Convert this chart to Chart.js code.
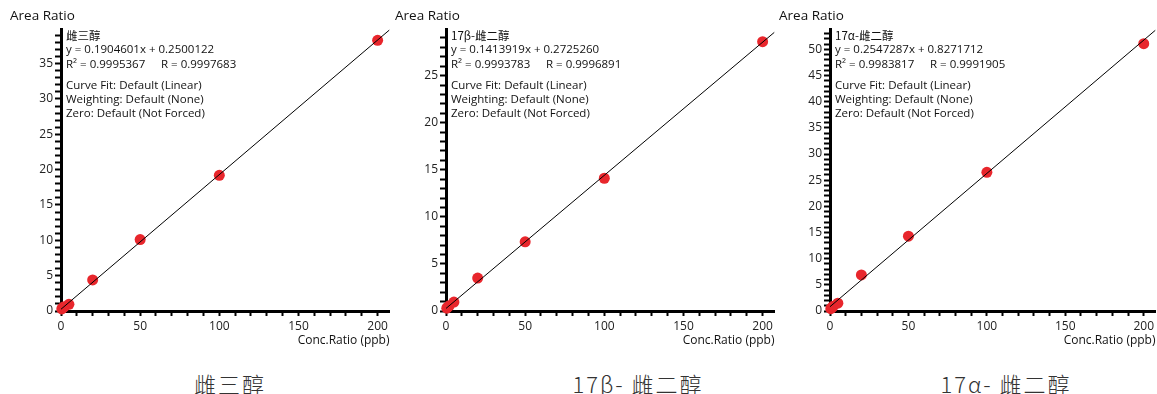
<!DOCTYPE html>
<html>
<head>
<meta charset="utf-8">
<script src="https://cdn.jsdelivr.net/npm/chart.js@4"></script>
<style>
  body { margin: 0; width: 1157px; height: 394px; overflow: hidden; background: #fff; position: relative; }
  .panel { position: absolute; top: 0; }
  .caption { position: absolute; top: 367px; font-family: "Noto Sans CJK SC", "Noto Sans", sans-serif; font-weight: 300;
             font-size: 22px; color: #333; letter-spacing: 2px; white-space: nowrap; transform: translateX(-50%); }
</style>
</head>
<body>
<div class="panel" style="left:0px"><canvas id="c1" width="395" height="352"></canvas></div>
<div class="panel" style="left:385px"><canvas id="c2" width="395" height="352"></canvas></div>
<div class="panel" style="left:769px"><canvas id="c3" width="392" height="352"></canvas></div>
<div class="caption" style="left:230px">雌三醇</div>
<div class="caption" style="left:638px">17β- 雌二醇</div>
<div class="caption" style="left:1006px">17α- 雌二醇</div>
<script>
// concentracoes dos padroes (ppb)
const concLevels = [0.5, 1, 2, 5, 20, 50, 100, 200];

// area ratio
const estriolRatio = [0.3, 0.45, 0.6, 0.95, 4.4, 10.1, 19.2, 38.3];
const betaRatio = [0.3, 0.4, 0.55, 0.95, 3.5, 7.35, 14.1, 28.6];
const alphaRatio = [0.45, 0.6, 0.9, 1.5, 6.9, 14.3, 26.5, 51.1];

// textos de cada curva
const compNames = ['雌三醇', '17β-雌二醇', '17α-雌二醇'];
const slopes = [0.1904601, 0.1413919, 0.2547287];
const intercepts = [0.2500122, 0.2725260, 0.8271712];
const r2Values = ['0.9995367', '0.9993783', '0.9983817'];
const rValues = ['0.9997683', '0.9996891', '0.9991905'];
const yMaxes = [39.9, 29.95, 53.9];
const xMax = 207.5;

// ticks: menores de 10 em 10 no x e de 1 em 1 no y, rotulo a cada 50 / 5
const xTicks = [0, 10, 20, 30, 40, 50, 60, 70, 80, 90, 100, 110, 120, 130, 140, 150, 160, 170, 180, 190, 200];
const xLabelStep = 50;
const yLabelStep = 5;

const font = '"Open Sans", "Noto Sans", sans-serif';

// texto da equacao e dos titulos dos eixos
const notesPlugin = {
  id: 'notes',
  afterDatasetsDraw(chart) {
    const n = chart.options.plugins.notes;
    const c = chart.ctx;
    const a = chart.chartArea;
    c.save();
    c.fillStyle = '#111';
    c.textBaseline = 'middle';
    c.textAlign = 'left';
    c.font = '13.5px ' + font;
    c.fillText('Area Ratio', 10, 16);
    const x = a.left + 5;
    c.font = '11.5px "Noto Sans CJK SC", ' + font;
    c.fillText(n.name, x, 36);
    c.font = '11.5px ' + font;
    c.fillText('y = ' + n.slope.toFixed(7) + 'x + ' + n.intercept.toFixed(7), x, 50);
    c.fillText('R² = ' + n.r2, x, 65);
    c.fillText('R = ' + n.r, x + 95, 65);
    c.fillText('Curve Fit: Default (Linear)', x, 86);
    c.fillText('Weighting: Default (None)', x, 100);
    c.fillText('Zero: Default (Not Forced)', x, 114);
    c.textAlign = 'right';
    c.font = '12px ' + font;
    c.fillText('Conc.Ratio (ppb)', a.right, 341);
    c.restore();
  }
};

function desenhar(id, i, values) {
  const pontos = concLevels.map((x, k) => ({ x, y: values[k] }));
  const reta = [0, xMax].map(x => ({ x, y: slopes[i] * x + intercepts[i] }));
  const yTicks = [];
  for (let v = 0; v <= Math.floor(yMaxes[i]); v++) yTicks.push(v);

  new Chart(document.getElementById(id), {
    type: 'scatter',
    data: {
      datasets: [
        {
          type: 'line',
          data: reta,
          borderColor: '#000',
          borderWidth: 1,
          pointRadius: 0,
          fill: false
        },
        {
          data: pontos,
          backgroundColor: '#e8262c',
          borderWidth: 0,
          pointRadius: 5.5,
          pointHoverRadius: 5.5,
          clip: false
        }
      ]
    },
    options: {
      responsive: false,
      animation: false,
      devicePixelRatio: 1,
      layout: { padding: { top: 29, right: 1, left: 0, bottom: 0 } },
      plugins: {
        legend: { display: false },
        tooltip: { enabled: false },
        notes: {
          name: compNames[i],
          slope: slopes[i],
          intercept: intercepts[i],
          r2: r2Values[i],
          r: rValues[i]
        }
      },
      scales: {
        x: {
          type: 'linear',
          min: 0,
          max: xMax,
          afterFit: s => { s.height = 41; },
          afterBuildTicks: s => { s.ticks = xTicks.map(value => ({ value })); },
          border: { display: true, color: '#000', width: 3 },
          grid: { drawOnChartArea: false, tickLength: 5, tickColor: '#000', tickWidth: 2 },
          ticks: {
            autoSkip: false,
            maxRotation: 0,
            padding: 3,
            color: '#222',
            font: { family: font, size: 12 },
            callback: v => (v % xLabelStep === 0 ? v : '')
          }
        },
        y: {
          type: 'linear',
          min: 0,
          max: yMaxes[i],
          afterFit: s => { s.width = 61; },
          afterBuildTicks: s => { s.ticks = yTicks.map(value => ({ value })); },
          border: { display: true, color: '#000', width: 3 },
          grid: { drawOnChartArea: false, tickLength: 6, tickColor: '#000', tickWidth: 2 },
          ticks: {
            autoSkip: false,
            padding: 2,
            color: '#222',
            font: { family: font, size: 12 },
            callback: v => (v % yLabelStep === 0 ? v : '')
          }
        }
      }
    },
    plugins: [notesPlugin]
  });
}

desenhar('c1', 0, estriolRatio);
desenhar('c2', 1, betaRatio);
desenhar('c3', 2, alphaRatio);
</script>
</body>
</html>
